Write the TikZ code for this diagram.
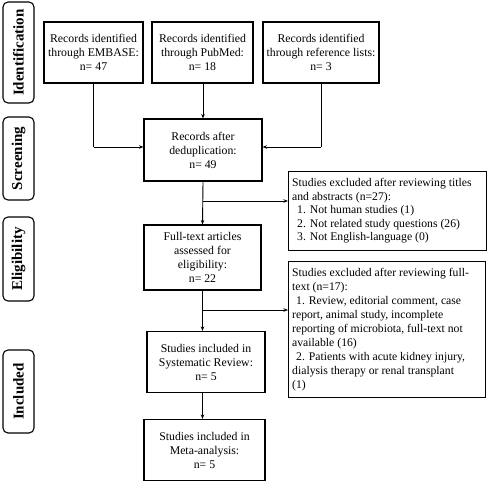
\documentclass[tikz,border=0pt]{standalone}
\usepackage{fontspec}
\setmainfont{Liberation Serif}
\usetikzlibrary{arrows.meta}
\begin{document}
\begin{tikzpicture}[x=1pt,y=-1pt,
  box/.style={draw,line width=1.1pt,inner sep=0pt,align=center,font=\fontsize{11.8}{14}\selectfont},
  exbox/.style={draw,line width=1.1pt,inner sep=0pt,anchor=north west},
  phase/.style={draw,line width=1.1pt,rounded corners=5pt,inner sep=0pt,minimum width=31pt},
  ptext/.style={rotate=90,font=\fontsize{15}{17}\selectfont\bfseries},
  arr/.style={line width=0.9pt,-{Stealth[length=4.5pt,width=3.5pt]}},
  ln/.style={line width=0.9pt}]
\useasboundingbox (0,0) rectangle (487,483);
% phases
\node[phase,minimum height=101pt] (pid) at (18.5,52.5) {};
\node[ptext] at (pid.center) {Identification};
\node[phase,minimum height=83pt] (psc) at (18.5,158.5) {};
\node[ptext] at (psc.center) {Screening};
\node[phase,minimum height=84pt] (pel) at (18.5,259) {};
\node[ptext] at (pel.center) {Eligibility};
\node[phase,minimum height=83pt] (pin) at (18.5,391.5) {};
\node[ptext] at (pin.center) {Included};
% boxes
\node[box,minimum width=99pt,minimum height=61pt] (emb) at (93.5,52.5) {Records identified\\through EMBASE:\\n= 47};
\node[box,minimum width=101pt,minimum height=61pt] (pub) at (202.5,52.5) {Records identified\\through PubMed:\\n= 18};
\node[box,minimum width=116pt,minimum height=61pt] (ref) at (321,52.5) {Records identified\\through reference lists:\\n= 3};
\node[box,minimum width=118pt,minimum height=62pt] (dedup) at (203,150) {Records after\\deduplication:\\n= 49};
\node[box,minimum width=117pt,minimum height=65pt] (full) at (202.5,257.5) {Full-text articles\\assessed for\\eligibility:\\n= 22};
\node[box,minimum width=118pt,minimum height=61pt] (sys) at (206,362) {Studies included in\\Systematic Review:\\n= 5};
\node[box,minimum width=121pt,minimum height=61pt] (meta) at (204.5,450) {Studies included in\\Meta-analysis:\\n= 5};
\node[exbox,minimum width=198pt,minimum height=79pt] (ex1) at (288,171) {};
\node[anchor=north west,inner sep=0pt,align=left,font=\fontsize{11.7}{13.6}\selectfont] at (292,178) {Studies excluded after reviewing titles\\and abstracts (n=27):\\\hspace*{5pt}1. Not human studies (1)\\\hspace*{5pt}2. Not related study questions (26)\\\hspace*{5pt}3. Not English-language (0)};
\node[exbox,minimum width=197pt,minimum height=136pt] (ex2) at (288,261) {};
\node[anchor=north west,inner sep=0pt,align=left,font=\fontsize{11.7}{14}\selectfont] at (292,268) {Studies excluded after reviewing full-\\text (n=17):\\\hspace*{4pt}1. Review, editorial comment, case\\report, animal study, incomplete\\reporting of microbiota, full-text not\\available (16)\\\hspace*{4pt}2. Patients with acute kidney injury,\\dialysis therapy or renal transplant\\(1)};
% connectors
\coordinate (j1) at (93.5,147);
\coordinate (j2) at (321,147);
\draw[ln] (emb.south) -- (j1);
\draw[arr] (j1) -- (dedup.west |- j1);
\draw[ln] (ref.south) -- (j2);
\draw[arr] (j2) -- (dedup.east |- j2);
\draw[arr] (pub.south -| dedup.north) -- (dedup.north);
\draw[arr] (dedup.south) -- (full.north);
\coordinate (b1) at (203,201);
\draw[arr] (b1) -- (ex1.west |- b1);
\coordinate (b2) at (203,310);
\draw[arr] (full.south) -- (full.south |- sys.north);
\draw[arr] (b2) -- (ex2.west |- b2);
\draw[arr] (sys.south -| full.south) -- (meta.north -| full.south);
\end{tikzpicture}
\end{document}
